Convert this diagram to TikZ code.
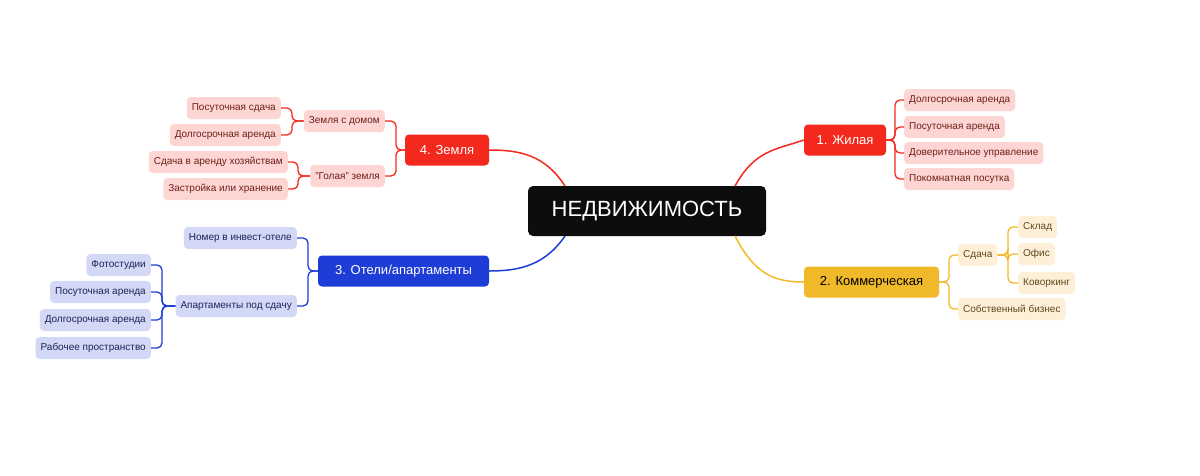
\documentclass[tikz,border=0pt]{standalone}
\usepackage{fontspec}
\setmainfont{Liberation Sans}
\definecolor{rd}{HTML}{F2291C}\definecolor{rdl}{HTML}{FDD5D2}\definecolor{rdt}{HTML}{6E1F1A}
\definecolor{yl}{HTML}{F0B929}\definecolor{yll}{HTML}{FEF0D8}\definecolor{ylt}{HTML}{5E4618}
\definecolor{bl}{HTML}{1E3CD6}\definecolor{bll}{HTML}{D3D8F7}\definecolor{blt}{HTML}{1C2458}
\tikzset{
 leaf/.style={rounded corners=4pt,inner xsep=5pt,minimum height=22pt,font=\fontsize{10}{12}\selectfont},
 rleaf/.style={leaf,fill=rdl,text=rdt},
 yleaf/.style={leaf,fill=yll,text=ylt},
 bleaf/.style={leaf,fill=bll,text=blt},
 topic/.style={rounded corners=4pt,inner xsep=9pt,minimum height=31pt,text=white,font=\fontsize{13}{15}\selectfont},
 br/.style={line width=1.3pt,rounded corners=5pt},
}
\begin{document}
\begin{tikzpicture}[x=1pt,y=-1pt]
\useasboundingbox (0,0) rectangle (1200,475);
\node[fill=black!95,rounded corners=5pt,minimum width=238pt,minimum height=50pt,text=white,font=\fontsize{22}{26}\selectfont] (root) at (647,211) {НЕДВИЖИМОСТЬ};
% topics
\node[topic,fill=rd,minimum width=82pt] (t1) at (845,140) {1. Жилая};
\node[topic,fill=yl,text=black,minimum width=135pt] (t2) at (871.5,282) {2. Коммерческая};
\node[topic,fill=bl,minimum width=171pt] (t3) at (403.5,271) {3. Отели/апартаменты};
\node[topic,fill=rd,minimum width=84pt] (t4) at (447,150) {4. Земля};
\draw[rd,line width=1.5pt] (735,186) .. controls (755,150) and (775,150) .. (t1.west);
\draw[yl,line width=1.5pt] (735,236) .. controls (755,275) and (775,282) .. (t2.west);
\draw[rd,line width=1.5pt] (565,186) .. controls (545,155) and (520,150) .. (t4.east);
\draw[bl,line width=1.5pt] (565,236) .. controls (545,265) and (520,271) .. (t3.east);
% 1
\coordinate (b1) at (895,0);
\foreach \n/\y/\t in {a/100/Долгосрочная аренда,b/127/Посуточная аренда,c/153/Доверительное управление,d/179/Покомнатная посутка}{
 \node[rleaf,anchor=west] (l1\n) at (904,\y) {\t};
 \draw[br,rd] (t1.east) -- (t1.east -| b1) |- (l1\n.west);}
% 2
\coordinate (b2) at (949,0);
\node[yleaf,anchor=west] (s1) at (958,255) {Сдача};
\node[yleaf,anchor=west] (s2) at (958,309) {Собственный бизнес};
\foreach \n in {s1,s2}{\draw[br,yl] (t2.east) -- (t2.east -| b2) |- (\n.west);}
\coordinate (b3) at (1008,0);
\foreach \n/\y/\t in {a/227/Склад,b/254/Офис,c/283/Коворкинг}{
 \node[yleaf,anchor=west] (k\n) at (1018,\y) {\t};
 \draw[br,yl] (s1.east) -- (s1.east -| b3) |- (k\n.west);}
% 4
\coordinate (b4) at (396,0);
\node[rleaf,anchor=east] (z1) at (385,121) {Земля с домом};
\node[rleaf,anchor=east] (z2) at (385,176) {"Голая" земля};
\foreach \n in {z1,z2}{\draw[br,rd] (t4.west) -- (t4.west -| b4) |- (\n.east);}
\coordinate (b5) at (292,0);
\foreach \n/\y/\t in {a/108/Посуточная сдача,b/135/Долгосрочная аренда}{
 \node[rleaf,anchor=east] (za\n) at (281,\y) {\t};
 \draw[br,rd] (z1.west) -- (z1.west -| b5) |- (za\n.east);}
\coordinate (b6) at (298,0);
\foreach \n/\y/\t in {a/162/Сдача в аренду хозяйствам/фермы,b/189/Застройка или хранение}{
 \node[rleaf,anchor=east] (zb\n) at (288,\y) {\t};
 \draw[br,rd] (z2.west) -- (z2.west -| b6) |- (zb\n.east);}
% 3
\coordinate (b7) at (308,0);
\node[bleaf,anchor=east] (o1) at (297,238) {Номер в инвест-отеле};
\node[bleaf,anchor=east] (o2) at (297,306) {Апартаменты под сдачу};
\foreach \n in {o1,o2}{\draw[br,bl] (t3.west) -- (t3.west -| b7) |- (\n.east);}
\coordinate (b8) at (162,0);
\foreach \n/\y/\t in {a/265/Фотостудии,b/292/Посуточная аренда,c/320/Долгосрочная аренда,d/348/Рабочее пространство}{
 \node[bleaf,anchor=east] (oa\n) at (151,\y) {\t};
 \draw[br,bl] (o2.west) -- (o2.west -| b8) |- (oa\n.east);}
\end{tikzpicture}
\end{document}
